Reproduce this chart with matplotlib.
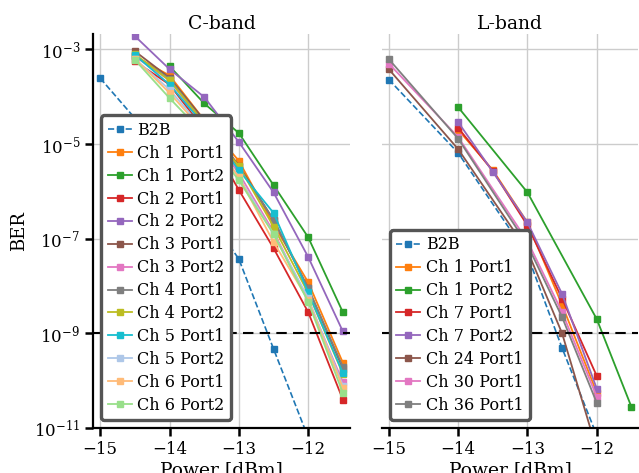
import matplotlib.pyplot as plt
from matplotlib.ticker import LogLocator, NullLocator

# -------------------------
# MEASURED BER DATA
# -------------------------
power_b2b = [-15, -14, -13, -12.5, -12]
power_c = [-14.5, -14, -13.5, -13, -12.5, -12, -11.5]
power_c_ch1p2 = [-14, -13.5, -13, -12.5, -12, -11.5]
power_l_new = [-14, -13.5, -13, -12.5, -12]
power_l_ch1p2 = [-14, -13, -12, -11.5]
power_l_old = [-15, -14, -13, -12.5, -12]

b2b_c = [2.45e-4, 5.0e-6, 3.7e-8, 4.7e-10, 6.3e-12]
b2b_l = [2.3e-4, 6.5e-6, 4.5e-8, 4.9e-10, 7.0e-12]

# C-band channels
c_ch1_p1 = [7.1e-4, 2.8e-4, 3.2e-5, 4.4e-6, 2.0e-7, 1.2e-8, 2.4e-10]
c_ch1_p2 = [4.4e-4, 7.2e-5, 1.7e-5, 1.35e-6, 1.07e-7, 2.8e-9]
c_ch2_p1 = [5.6e-4, 1.8e-4, 2.0e-5, 1.07e-6, 6.3e-8, 2.8e-9, 4.0e-11]
c_ch2_p2 = [1.9e-3, 3.8e-4, 9.8e-5, 1.1e-5, 9.5e-7, 4.1e-8, 1.1e-9]
c_ch3_p1 = [9.1e-4, 2.5e-4, 3.2e-5, 3.5e-6, 2.5e-7, 8.9e-9, 1.8e-10]
c_ch3_p2 = [7.1e-4, 2.2e-4, 2.5e-5, 2.4e-6, 1.4e-7, 5.0e-9, 9.3e-11]
c_ch4_p1 = [7.4e-4, 2.4e-4, 2.8e-5, 3.2e-6, 2.5e-7, 9.1e-9, 1.95e-10]
c_ch4_p2 = [7.9e-4, 2.2e-4, 2.8e-5, 3.4e-6, 1.8e-7, 7.1e-9, 1.4e-10]
c_ch5_p1 = [7.6e-4, 1.8e-4, 2.5e-5, 2.8e-6, 3.5e-7, 7.4e-9, 1.45e-10]
c_ch5_p2 = [6.3e-4, 1.4e-4, 2.0e-5, 2.0e-6, 1.26e-7, 5.6e-9, 7.9e-11]
c_ch6_p1 = [6.3e-4, 1.2e-4, 1.8e-5, 2.0e-6, 8.5e-8, 5.0e-9, 7.1e-11]
c_ch6_p2 = [6.0e-4, 9.3e-5, 1.6e-5, 1.7e-6, 1.26e-7, 4.6e-9, 5.5e-11]

# L-band channels
l_ch1_p1 = [2.0e-5, 2.8e-6, 2.2e-7, 4.0e-9, 5.6e-11]
l_ch1_p2 = [6.0e-5, 9.5e-7, 2.0e-9, 2.8e-11]
l_ch7_p1 = [2.2e-5, 2.7e-6, 1.9e-7, 5.4e-9, 1.26e-10]
l_ch7_p2 = [2.9e-5, 2.6e-6, 2.2e-7, 6.8e-9, 6.8e-11]
l_ch24_p1 = [3.8e-4, 7.8e-6, 5.6e-8, 1.0e-9, 3.5e-12]
l_ch30_p1 = [5.0e-4, 1.4e-5, 8.9e-8, 2.8e-9, 4.6e-11]
l_ch36_p1 = [6.2e-4, 1.3e-5, 7.4e-8, 2.2e-9, 3.4e-11]

ber_limit = 1e-9

c_series = [
    ('Ch 1 Port1', power_c, c_ch1_p1, 'tab:orange'),
    ('Ch 1 Port2', power_c_ch1p2, c_ch1_p2, 'tab:green'),
    ('Ch 2 Port1', power_c, c_ch2_p1, 'tab:red'),
    ('Ch 2 Port2', power_c, c_ch2_p2, 'tab:purple'),
    ('Ch 3 Port1', power_c, c_ch3_p1, 'tab:brown'),
    ('Ch 3 Port2', power_c, c_ch3_p2, 'tab:pink'),
    ('Ch 4 Port1', power_c, c_ch4_p1, 'tab:gray'),
    ('Ch 4 Port2', power_c, c_ch4_p2, 'tab:olive'),
    ('Ch 5 Port1', power_c, c_ch5_p1, 'tab:cyan'),
    ('Ch 5 Port2', power_c, c_ch5_p2, '#aec7e8'),
    ('Ch 6 Port1', power_c, c_ch6_p1, '#ffbb78'),
    ('Ch 6 Port2', power_c, c_ch6_p2, '#98df8a'),
]

l_series = [
    ('Ch 1 Port1', power_l_new, l_ch1_p1, 'tab:orange'),
    ('Ch 1 Port2', power_l_ch1p2, l_ch1_p2, 'tab:green'),
    ('Ch 7 Port1', power_l_new, l_ch7_p1, 'tab:red'),
    ('Ch 7 Port2', power_l_new, l_ch7_p2, 'tab:purple'),
    ('Ch 24 Port1', power_l_old, l_ch24_p1, 'tab:brown'),
    ('Ch 30 Port1', power_l_old, l_ch30_p1, 'tab:pink'),
    ('Ch 36 Port1', power_l_old, l_ch36_p1, 'tab:gray'),
]

# -------------------------
# PLOT
# -------------------------
plt.rcParams['font.family'] = 'DejaVu Serif'
plt.rcParams['mathtext.fontset'] = 'dejavuserif'
plt.rcParams['font.size'] = 12

fig, axes = plt.subplots(1, 2, figsize=(6.39, 4.73), dpi=100, sharey=True)
fig.subplots_adjust(left=0.146, right=0.999, bottom=0.095, top=0.928, wspace=0.125)

panels = [
    (axes[0], 'C-band', power_b2b, b2b_c, c_series),
    (axes[1], 'L-band', power_b2b, b2b_l, l_series),
]

for ax, title, px, b2b, series in panels:
    ax.plot(px, b2b, '--s', color='tab:blue', lw=1.2, ms=4, label='B2B')
    for label, x, y, col in series:
        ax.plot(x, y, '-s', color=col, lw=1.3, ms=4, label=label)
    ax.axhline(ber_limit, color='black', ls='--', lw=1.5, dashes=(5, 3))

    ax.set_yscale('log')
    ax.set_xlim(-15.1, -11.4)
    ax.set_ylim(1e-11, 2.1e-3)
    ax.set_xticks([-15, -14, -13, -12])
    ax.yaxis.set_major_locator(LogLocator(base=100.0, subs=(0.1,), numticks=10))
    ax.yaxis.set_minor_locator(NullLocator())
    ax.grid(True, color='#cccccc', lw=1.0)
    ax.set_axisbelow(True)
    ax.set_title(title, fontsize=13.5, pad=4)
    ax.set_xlabel('Power [dBm]', fontsize=13.5, labelpad=2)

    for side in ['top', 'right']:
        ax.spines[side].set_visible(False)
    for side in ['left', 'bottom']:
        ax.spines[side].set_linewidth(1.6)
    ax.tick_params(direction='out', length=6, width=1.8, labelsize=12)

    leg = ax.legend(loc='lower left', fontsize=11.5, framealpha=1.0,
                    fancybox=True, handlelength=1.5, handletextpad=0.35,
                    borderaxespad=0.5, labelspacing=0.37, borderpad=0.4)
    leg.get_frame().set_edgecolor('#555555')
    leg.get_frame().set_linewidth(2.4)

axes[0].set_ylabel('BER', fontsize=13)
axes[1].spines['left'].set_visible(False)
axes[1].tick_params(axis='y', left=False)

plt.savefig('out.png', dpi=100)
